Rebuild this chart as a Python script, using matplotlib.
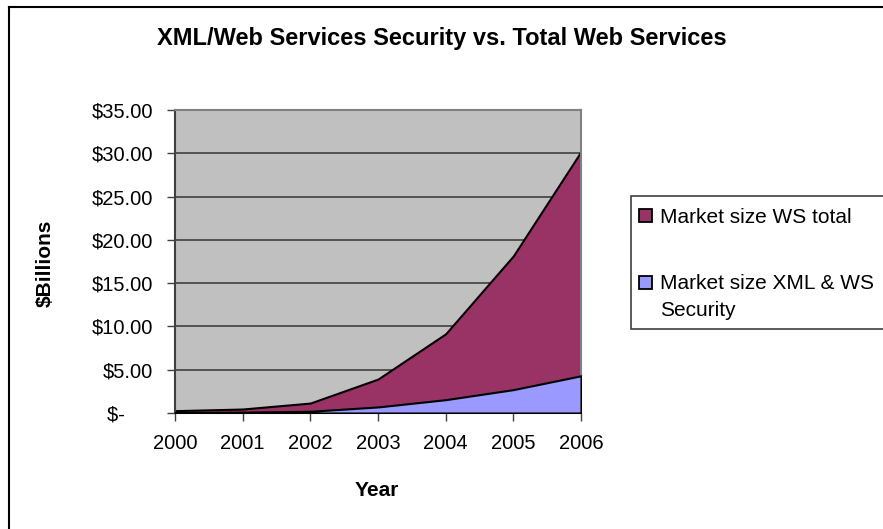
import matplotlib
matplotlib.use("Agg")
import matplotlib.pyplot as plt
from matplotlib.patches import Rectangle
from matplotlib.lines import Line2D

years = ["2000", "2001", "2002", "2003", "2004", "2005", "2006"]
ws_total = [0.27, 0.46, 1.15, 3.92, 9.15, 18.15, 30.2]
ws_security = [0.05, 0.1, 0.2, 0.7, 1.54, 2.7, 4.3]
yticks = [0, 5, 10, 15, 20, 25, 30, 35]
ytick_labels = ["$-     ", "$5.00", "$10.00", "$15.00", "$20.00", "$25.00", "$30.00", "$35.00"]
series_labels = ['Market size WS total', 'Market size XML & WS\nSecurity']
series_colors = ['#993366', '#9999FF']

plt.rcParams['font.family'] = ['Liberation Sans', 'DejaVu Sans']

W, H = 883, 529
fig = plt.figure(figsize=(W / 100, H / 100), dpi=100)

# outer chart border (only left and top visible)
fig.add_artist(Line2D([8.5 / W, 8.5 / W], [0, 1 - 6.5 / H], transform=fig.transFigure,
                      color='black', linewidth=1.5))
fig.add_artist(Line2D([8.5 / W, 1.0], [1 - 6.5 / H, 1 - 6.5 / H], transform=fig.transFigure,
                      color='black', linewidth=1.5))

ax = fig.add_axes([175 / W, 1 - 413 / H, (581 - 175) / W, (413 - 110) / H])
ax.set_facecolor('#C0C0C0')
x = list(range(len(years)))

ax.fill_between(x, 0, ws_total, facecolor=series_colors[0], edgecolor='black', linewidth=1.5,
                zorder=2)
ax.fill_between(x, 0, ws_security, facecolor=series_colors[1], edgecolor='black', linewidth=1.5,
                zorder=3)

ax.set_xlim(0, len(years) - 1)
ax.set_ylim(0, 35)
ax.set_yticks(yticks)
ax.set_yticklabels(ytick_labels)
ax.set_xticks(x)
ax.set_xticklabels(years)
ax.yaxis.grid(True, color='#404040', linewidth=1.2, zorder=1)
ax.set_axisbelow(True)
ax.tick_params(axis='both', labelsize=14.5, length=6, width=1, color='#404040', direction='out')
ax.tick_params(axis='y', pad=10)
ax.tick_params(axis='x', pad=9)
for s in ['top', 'right']:
    ax.spines[s].set_color('#808080')
    ax.spines[s].set_linewidth(1.5)
for s in ['left', 'bottom']:
    ax.spines[s].set_color('#404040')
    ax.spines[s].set_linewidth(1.5)

fig.text(377 / W, 1 - 490 / H, 'Year', ha='center', va='center', fontsize=15, fontweight='bold')
fig.text(45 / W, 1 - 263 / H, '$Billions', ha='center', va='center', fontsize=15,
         fontweight='bold', rotation=90)

fig.text(442 / W, 1 - 38 / H, 'XML/Web Services Security vs. Total Web Services',
         ha='center', va='center', fontsize=17, fontweight='bold')

# legend frame extending beyond right edge
fig.patches.append(Rectangle((631 / W, 1 - 329 / H), (W + 20 - 631) / W, (329 - 196) / H,
                             transform=fig.transFigure, facecolor='white',
                             edgecolor='#404040', linewidth=1.2, zorder=1))
# legend entries: (handle center y px, text center y px)
entry_pos = [(215, 218), (282, 297)]
for (hy, ty), lab, col in zip(entry_pos, series_labels, series_colors):
    fig.patches.append(Rectangle((639 / W, 1 - (hy + 7) / H), 13 / W, 13 / H,
                                 transform=fig.transFigure, facecolor=col,
                                 edgecolor='black', linewidth=1.3, zorder=2))
    fig.text(660 / W, 1 - ty / H, lab, ha='left', va='center', fontsize=15,
             linespacing=1.55, zorder=3)

fig.savefig('out.png', dpi=100)
